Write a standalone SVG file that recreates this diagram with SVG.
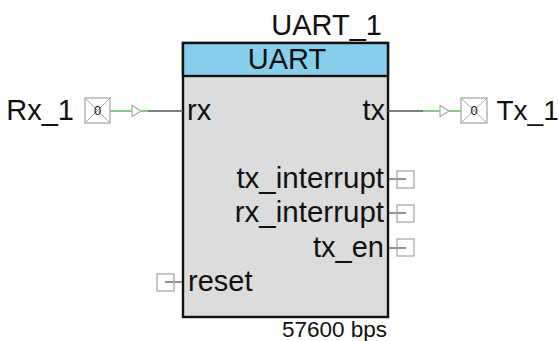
<svg xmlns="http://www.w3.org/2000/svg" width="559" height="341" viewBox="0 0 559 341">
<style>
text{font-family:"Liberation Sans",Arial,sans-serif;fill:#111}
.l{font-size:29px}
.m{font-size:29.500px}
.box{fill:#fff;stroke:#aaa;stroke-width:1.3}
.x{stroke:#aaa;stroke-width:1;fill:none}
.w{stroke:#555;stroke-width:1.3;fill:none}
.g{stroke:#6cb86c;stroke-width:1.5;fill:none}
.t{fill:#fff;stroke:#aaa;stroke-width:1.2}
.p{stroke:#222;stroke-width:1.2;fill:none}
.d{font-size:13px}
</style>
<g id="uart">
<rect x="183" y="43" width="205" height="274" fill="#dcdcdc" stroke="#111" stroke-width="2.4"/>
<rect x="183" y="43" width="205" height="33" fill="#87ceeb" stroke="#111" stroke-width="2.4"/>
<text x="287" y="69" class="l" text-anchor="middle">UART</text>
<text x="382" y="35" class="l" text-anchor="end">UART_1</text>
<text x="387" y="337" font-size="22.500" text-anchor="end">57600 bps</text>
<text x="187" y="120" class="l">rx</text>
<text x="385" y="120" class="l" text-anchor="end">tx</text>
<text x="384" y="188" class="m" text-anchor="end">tx_interrupt</text>
<text x="384" y="222" class="m" text-anchor="end">rx_interrupt</text>
<text x="384" y="257" class="l" text-anchor="end">tx_en</text>
<text x="188" y="291" class="l">reset</text>
</g>
<g id="connectors">
<path class="g" d="M110 111H132M140 111H148"/>
<path class="w" d="M148 111H183"/>
<path class="w" d="M388 111H423"/>
<path class="g" d="M423 111H440M449 111H461"/>
<path class="p" d="M388 179H406M388 213H406M388 248H406M165 282H183"/>
</g>
<g id="rx-pin">
<rect class="box" x="85" y="98" width="25" height="25"/>
<path class="x" d="M85 98L110 123M110 98L85 123"/>
<text x="97.500" y="115" class="d" text-anchor="middle">0</text>
<path class="t" d="M132 105.500L141 111L132 116.500Z"/>
<text x="74" y="120" class="l" text-anchor="end">Rx_1</text>
</g>
<g id="tx-pin">
<rect class="box" x="461" y="98" width="26" height="25"/>
<path class="x" d="M461 98L487 123M487 98L461 123"/>
<text x="474" y="115" class="d" text-anchor="middle">0</text>
<path class="t" d="M440 105.500L449 111L440 116.500Z"/>
<text x="496.500" y="120" font-size="28">Tx_1</text>
</g>
<g id="tx-interrupt-term"><rect class="box" x="397" y="171" width="17" height="17" fill-opacity="0"/></g>
<g id="rx-interrupt-term"><rect class="box" x="397" y="205" width="17" height="17" fill-opacity="0"/></g>
<g id="tx-en-term"><rect class="box" x="397" y="239" width="17" height="17" fill-opacity="0"/></g>
<g id="reset-term"><rect class="box" x="157" y="274" width="17" height="17" fill-opacity="0"/></g>
</svg>
